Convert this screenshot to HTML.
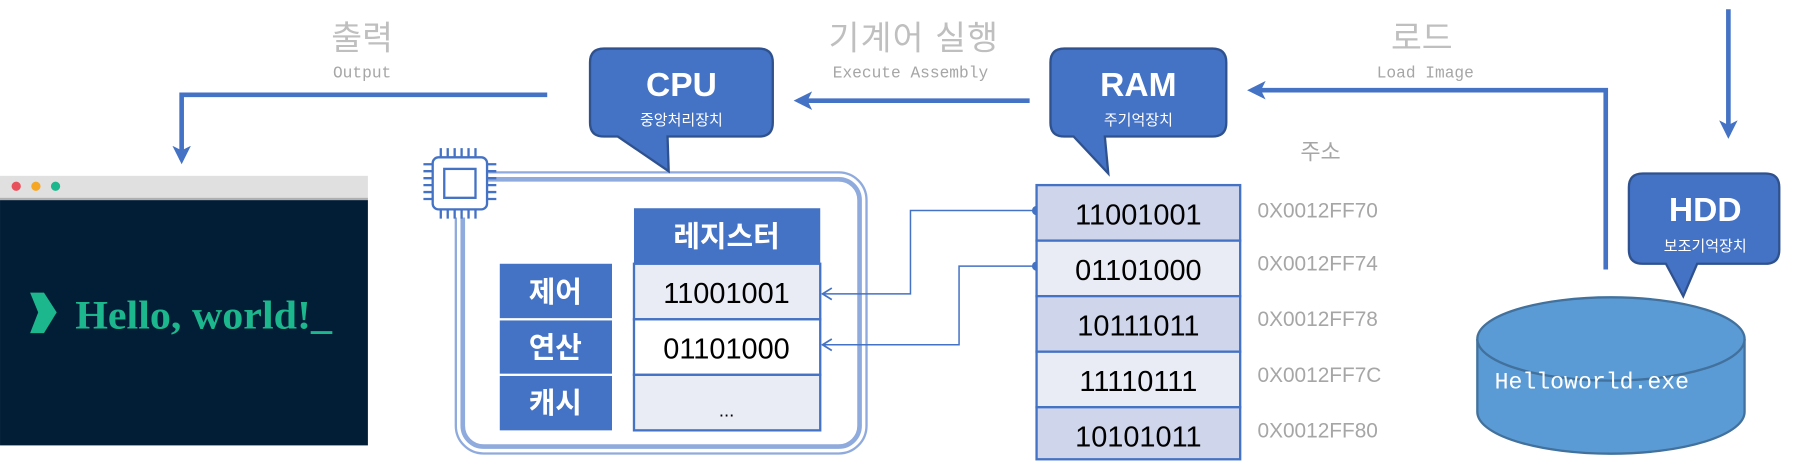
<!DOCTYPE html>
<html><head><meta charset="utf-8"><style>
html,body{margin:0;padding:0;background:#fff;}
svg{display:block;}
.k{font-family:"Liberation Sans","Noto Sans CJK KR",sans-serif;}
.m{font-family:"Liberation Mono","DejaVu Sans Mono",monospace;}
</style></head><body>
<svg width="1814" height="472" viewBox="0 0 1568 408" xmlns="http://www.w3.org/2000/svg">
<defs>
<marker id="ah" markerWidth="4" markerHeight="4" refX="3" refY="2" orient="auto" markerUnits="strokeWidth"><path d="M0,0 L4,2 L0,4 L1,2 z" fill="#4472c4"/></marker>
<marker id="as" markerWidth="12" markerHeight="12" refX="11" refY="6" orient="auto" markerUnits="userSpaceOnUse"><path d="M3,1 L11,6 L3,11" fill="none" stroke="#4472c4" stroke-width="1.5"/></marker>
</defs>
<g class="k" fill="#bfbfbf" font-size="29" text-anchor="middle">
<text x="313" y="43">출력</text>
<text x="790" y="43" letter-spacing="1">기계어 실행</text>
<text x="1229" y="43">로드</text>
</g>
<g class="m" fill="#a6a6a6" font-size="14" text-anchor="middle">
<text x="313" y="67">Output</text>
<text x="787" y="67">Execute Assembly</text>
<text x="1232" y="67">Load Image</text>
</g>
<g stroke="#4472c4" stroke-width="4" fill="none">
<polyline points="473,82 157,82 157,138" marker-end="url(#ah)"/>
<line x1="890" y1="87" x2="690" y2="87" marker-end="url(#ah)"/>
<polyline points="1388,233 1388,78 1082,78" marker-end="url(#ah)"/>
<line x1="1494" y1="8" x2="1494" y2="116" marker-end="url(#ah)"/>
</g>
<rect x="0" y="152" width="318" height="20" fill="#e0e0e0"/>
<rect x="0" y="171" width="318" height="2" fill="#b0b0b0"/>
<circle cx="14" cy="161" r="4" fill="#e8505b"/><circle cx="31" cy="161" r="4" fill="#f5a623"/><circle cx="48" cy="161" r="4" fill="#1cb78c"/>
<rect x="0" y="173" width="318" height="212" fill="#021e36"/>
<polygon points="26,253 38,253 49,270 38,288 26,288 33,270" fill="#1cb78c"/>
<text x="65" y="284" font-family="'Liberation Serif',serif" font-weight="bold" font-size="35" fill="#1cb78c" textLength="222" lengthAdjust="spacingAndGlyphs">Hello, world!_</text>
<rect x="394" y="149" width="355" height="243" rx="24" fill="#fff" stroke="#8faadc" stroke-width="2"/>
<rect x="400" y="155" width="343" height="231" rx="18" fill="none" stroke="#8faadc" stroke-width="4"/>
<rect x="360" y="122" width="62" height="66" fill="#fff"/>
<g stroke="#4472c4" stroke-width="2" fill="none">
<rect x="374" y="136" width="47" height="45" rx="5" fill="#fff"/>
<rect x="384" y="146" width="27" height="25"/>
<path d="M381,128v8M387,128v8M393,128v8M399,128v8M405,128v8M411,128v8M381,181v8M387,181v8M393,181v8M399,181v8M405,181v8M411,181v8M366,142h8M366,148h8M366,154h8M366,160h8M366,166h8M366,172h8M421,142h8M421,148h8M421,154h8M421,160h8M421,166h8M421,172h8"/>
</g>
<g fill="#4472c4">
<rect x="432" y="228" width="97" height="47"/><rect x="432" y="277" width="97" height="46"/><rect x="432" y="325" width="97" height="47"/>
<rect x="548" y="180" width="161" height="48"/>
</g>
<g class="k" fill="#fff" font-weight="bold" font-size="25" text-anchor="middle">
<text x="480" y="261">제어</text><text x="480" y="309">연산</text><text x="480" y="357">캐시</text>
<text x="628" y="213">레지스터</text>
</g>
<g stroke="#4472c4" stroke-width="2">
<rect x="548" y="228" width="161" height="48" fill="#e9ebf5"/>
<rect x="548" y="276" width="161" height="48" fill="#fff"/>
<rect x="548" y="324" width="161" height="48" fill="#e9ebf5"/>
</g>
<g class="k" fill="#000" font-size="25" text-anchor="middle">
<text x="628" y="262">11001001</text><text x="628" y="310">01101000</text><text x="628" y="360" font-size="16">...</text>
</g>
<g stroke="#4472c4" stroke-width="1.3" fill="none">
<polyline points="895,182 787,182 787,254 711,254" marker-end="url(#as)"/>
<polyline points="895,230 829,230 829,298 711,298" marker-end="url(#as)"/>
</g>
<circle cx="896" cy="182" r="4" fill="#4472c4"/><circle cx="896" cy="230" r="4" fill="#4472c4"/>
<g stroke="#4472c4" stroke-width="2">
<rect x="896" y="160" width="176" height="48" fill="#cfd5ea"/>
<rect x="896" y="208" width="176" height="48" fill="#e9ebf5"/>
<rect x="896" y="256" width="176" height="48" fill="#cfd5ea"/>
<rect x="896" y="304" width="176" height="48" fill="#e9ebf5"/>
<rect x="896" y="352" width="176" height="45" fill="#cfd5ea"/>
</g>
<g class="k" fill="#000" font-size="25" text-anchor="middle">
<text x="984" y="194">11001001</text><text x="984" y="242">01101000</text><text x="984" y="290">10111011</text><text x="984" y="338">11110111</text><text x="984" y="386">10101011</text>
</g>
<g class="k" fill="#a6a6a6" font-size="18">
<text x="1087" y="188">0X0012FF70</text><text x="1087" y="234">0X0012FF74</text><text x="1087" y="282">0X0012FF78</text><text x="1087" y="330">0X0012FF7C</text><text x="1087" y="378">0X0012FF80</text>
<text x="1124" y="138" font-size="19">주소</text>
</g>
<path d="M1277,293 L1277,356 A115,36 0 0 0 1508,356 L1508,293" fill="#5b9bd5" stroke="#41719c" stroke-width="2"/>
<ellipse cx="1392.5" cy="293" rx="115.5" ry="36" fill="#5b9bd5" stroke="#41719c" stroke-width="2"/>
<text x="1292" y="336" class="m" fill="#fff" font-size="20">Helloworld.exe</text>
<g fill="#4472c4" stroke="#2f528f" stroke-width="2">
<path d="M522,42 H656 Q668,42 668,54 V106 Q668,118 656,118 H577 L578,148 L534,118 H522 Q510,118 510,106 V54 Q510,42 522,42 Z"/>
<path d="M920,42 H1048 Q1060,42 1060,54 V106 Q1060,118 1048,118 H955 L958,150 L928,118 H920 Q908,118 908,106 V54 Q908,42 920,42 Z"/>
<path d="M1420,150 H1526 Q1538,150 1538,162 V216 Q1538,228 1526,228 H1467 L1455,256 L1440,228 H1420 Q1408,228 1408,216 V162 Q1408,150 1420,150 Z"/>
</g>
<g class="k" fill="#fff" text-anchor="middle">
<text x="589" y="83" font-size="29" font-weight="bold">CPU</text>
<text x="589" y="108" font-size="13">중앙처리장치</text>
<text x="984" y="83" font-size="29" font-weight="bold">RAM</text>
<text x="984" y="108" font-size="13">주기억장치</text>
<text x="1474" y="191" font-size="29" font-weight="bold">HDD</text>
<text x="1474" y="217" font-size="13">보조기억장치</text>
</g>
</svg>
</body></html>
